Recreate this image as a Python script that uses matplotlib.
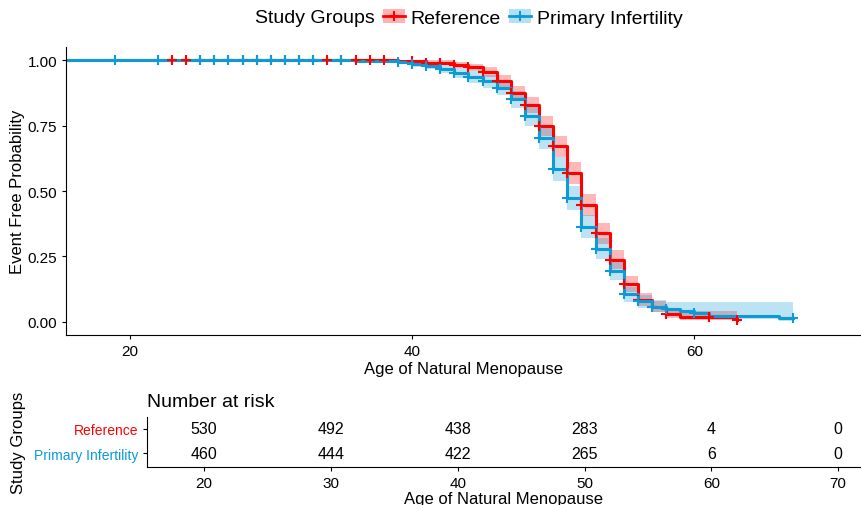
import numpy as np
import matplotlib
matplotlib.use("Agg")
import matplotlib.pyplot as plt
from matplotlib.patches import Patch
from matplotlib.lines import Line2D

plt.rcParams['font.family'] = ['Liberation Sans', 'DejaVu Sans']

groups = ['Reference', 'Primary Infertility']
colors = ['#FF0000', '#0C9BD6']

# Kaplan-Meier steps (age, survival, 95% CI)
ref_time = [0, 39, 41, 43, 44, 45, 46, 47, 48, 49, 50, 51, 52, 53, 54, 55, 56, 57, 58, 59, 63]
ref_surv = [1.0, 0.996, 0.990, 0.982, 0.972, 0.955, 0.919, 0.874, 0.829, 0.747, 0.671,
            0.569, 0.447, 0.338, 0.238, 0.146, 0.085, 0.058, 0.030, 0.019, 0.008]
ref_lower = [1.0, 0.990, 0.981, 0.970, 0.957, 0.937, 0.895, 0.845, 0.797, 0.710, 0.631,
             0.526, 0.404, 0.297, 0.201, 0.115, 0.060, 0.038, 0.016, 0.008, 0.001]
ref_upper = [1.0, 1.0, 0.999, 0.994, 0.987, 0.973, 0.943, 0.903, 0.861, 0.785, 0.712,
             0.612, 0.490, 0.379, 0.275, 0.177, 0.110, 0.080, 0.052, 0.042, 0.030]
ref_end = 63
ref_censor = list(range(23, 39)) + list(range(40, 59)) + [61, 63]

inf_time = [0, 36, 39, 40, 41, 42, 43, 44, 45, 46, 47, 48, 49, 50, 51, 52, 53, 54, 55, 56,
            57, 58, 59, 60, 61, 66]
inf_surv = [1.0, 0.997, 0.992, 0.985, 0.978, 0.967, 0.950, 0.936, 0.920, 0.895, 0.851,
            0.787, 0.701, 0.585, 0.472, 0.363, 0.280, 0.195, 0.106, 0.079, 0.058, 0.051,
            0.042, 0.033, 0.023, 0.014]
inf_lower = [1.0, 0.991, 0.984, 0.974, 0.965, 0.951, 0.930, 0.914, 0.895, 0.867, 0.819,
             0.750, 0.659, 0.540, 0.426, 0.319, 0.239, 0.159, 0.077, 0.054, 0.038, 0.032,
             0.024, 0.017, 0.010, 0.004]
inf_upper = [1.0, 1.0, 1.0, 0.996, 0.991, 0.983, 0.970, 0.958, 0.945, 0.923, 0.884,
             0.824, 0.743, 0.630, 0.518, 0.407, 0.321, 0.231, 0.135, 0.104, 0.082, 0.075,
             0.075, 0.075, 0.075, 0.075]
inf_end = 67
inf_censor = [19, 22] + list(range(25, 34)) + [35] + list(range(39, 59)) + [60, 67]

risk_ages = [20, 30, 40, 50, 60, 70]
ref_risk = [530, 492, 438, 283, 4, 0]
inf_risk = [460, 444, 422, 265, 6, 0]

xlim = (15.5, 71.8)

fig = plt.figure(figsize=(8.61, 5.06), dpi=100)
ax = fig.add_axes([0.0767, 0.336, 0.9233, 0.569])
tab = fig.add_axes([0.1707, 0.075, 0.8293, 0.099])

series = [
    (ref_time, ref_surv, ref_lower, ref_upper, ref_end, ref_censor),
    (inf_time, inf_surv, inf_lower, inf_upper, inf_end, inf_censor),
]

for (t, s, lo, up, end, cens), c in zip(series, colors):
    x = list(t) + [end]
    ax.fill_between(x, list(lo) + [lo[-1]], list(up) + [up[-1]], step='post',
                    color=c, alpha=0.28, lw=0)

for (t, s, lo, up, end, cens), c in zip(series, colors):
    x = list(t) + [end]
    ax.step(x, list(s) + [s[-1]], where='post', color=c, lw=2.2)

for (t, s, lo, up, end, cens), c in zip(series, colors):
    idx = np.searchsorted(t, cens, side='right') - 1
    ax.plot(cens, np.array(s)[idx], ls='none', marker='+', ms=7, mew=1.5, color=c)

ax.set_xlim(*xlim)
ax.set_ylim(-0.05, 1.05)
ax.set_xticks([20, 40, 60])
ax.set_yticks([0, 0.25, 0.5, 0.75, 1.0])
ax.set_yticklabels(['0.00', '0.25', '0.50', '0.75', '1.00'])
ax.set_xlabel('Age of Natural Menopause', fontsize=12, labelpad=2)
ax.set_ylabel('Event Free Probability', fontsize=12)
ax.yaxis.set_label_coords(-0.0516, 0.5)
for a in (ax, tab):
    a.spines['top'].set_visible(False)
    a.spines['right'].set_visible(False)
    a.tick_params(direction='out', length=3, width=0.8, labelsize=11, colors='black')

# legend on top
fig.text(0.296, 0.963, 'Study Groups', fontsize=14, va='center', ha='left')
handles = [(Patch(facecolor=c, alpha=0.3, edgecolor='none'),
            Line2D([], [], color=c, lw=2, marker='+', ms=7, mew=1.5)) for c in colors]
fig.legend(handles, groups, loc='center left', bbox_to_anchor=(0.445, 0.963), ncol=2,
           frameon=False, fontsize=14, handlelength=1.1, handletextpad=0.3,
           columnspacing=0.45, borderpad=0, borderaxespad=0)

# risk table
rows = [2, 1]
for r, vals in zip(rows, [ref_risk, inf_risk]):
    for a, v in zip(risk_ages, vals):
        tab.text(a, r, str(v), ha='center', va='center', fontsize=11.5)
tab.set_xlim(*xlim)
tab.set_ylim(0.42, 2.5)
tab.set_xticks(risk_ages)
tab.set_yticks(rows)
tab.set_yticklabels(groups, fontsize=10)
for lab, c in zip(tab.get_yticklabels(), colors):
    lab.set_color(c)
tab.set_xlabel('Age of Natural Menopause', fontsize=12, labelpad=1)
tab.set_ylabel('Study Groups', fontsize=12)
tab.yaxis.set_label_coords(-0.169, 0.5)
tab.set_title('Number at risk', fontsize=14, loc='left', pad=8)

fig.savefig('out.png', dpi=100)
